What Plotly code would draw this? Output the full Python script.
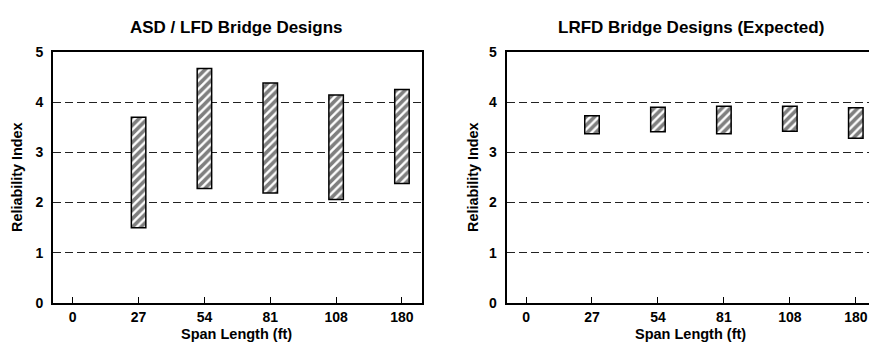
import plotly.graph_objects as go

# ---- data ----
spans = ["0", "27", "54", "81", "108", "180"]
bar_spans = ["27", "54", "81", "108", "180"]
asd_low = [1.50, 2.28, 2.19, 2.06, 2.38]
asd_high = [3.70, 4.67, 4.38, 4.14, 4.25]
lrfd_low = [3.37, 3.41, 3.37, 3.42, 3.28]
lrfd_high = [3.73, 3.90, 3.92, 3.92, 3.89]
titles = ["ASD / LFD Bridge Designs", "LRFD Bridge Designs (Expected)"]
x_title = "Span Length (ft)"
y_title = "Reliability Index"

W, H = 869, 354
FONT = "Liberation Sans, Arial, sans-serif"

def px(x):
    return x / W

def py(y):
    return 1 - y / H

pattern = dict(shape="/", fgcolor="black", bgcolor="white", size=6, solidity=0.6)

fig = go.Figure()
for lo, hi, xa, ya in [(asd_low, asd_high, "x", "y"), (lrfd_low, lrfd_high, "x2", "y2")]:
    fig.add_trace(go.Bar(
        x=bar_spans,
        y=[h - l for h, l in zip(hi, lo)],
        base=lo,
        width=0.22,
        marker=dict(color="white", line=dict(color="black", width=1.5), pattern=pattern),
        xaxis=xa, yaxis=ya, showlegend=False, hoverinfo="skip",
    ))

tickfont = dict(family=FONT, size=14, color="black", weight="bold")

common_x = dict(
    type="category", categoryorder="array", categoryarray=spans,
    showline=True, linecolor="black", linewidth=2, mirror=True,
    ticks="inside", ticklen=6, tickcolor="black", tickwidth=1,
    showgrid=False, zeroline=False, tickfont=tickfont, fixedrange=True,
)
common_y = dict(
    range=[0, 5], dtick=1, tick0=0,
    showline=True, linecolor="black", linewidth=2,
    showgrid=True, gridcolor="#222222", gridwidth=1, griddash="8px,4px",
    zeroline=False, ticks="", tickfont=tickfont, fixedrange=True,
    ticklabelstandoff=5,
)

ydom = [py(309), py(46)]
fig.update_layout(
    width=W, height=H,
    margin=dict(l=0, r=0, t=0, b=0),
    paper_bgcolor="white", plot_bgcolor="white",
    barmode="overlay",
    xaxis=dict(domain=[px(53), px(421.7)], range=[-0.3, 5.3], anchor="y", **common_x),
    yaxis=dict(domain=ydom, anchor="x", mirror=True, **common_y),
    xaxis2=dict(domain=[px(506.7), 1.0], range=[-0.293, 5.2], anchor="y2", **common_x),
    yaxis2=dict(domain=ydom, anchor="x2", mirror=False, **common_y),
)

ann = []
for t, cx in zip(titles, [237, 691]):
    ann.append(dict(text=t, x=px(cx), y=py(20), xref="paper", yref="paper",
                    showarrow=False, xanchor="center", yanchor="middle",
                    font=dict(family=FONT, size=17, color="black", weight="bold")))
for cx in [237, 690]:
    ann.append(dict(text=x_title, x=px(cx), y=py(341), xref="paper", yref="paper",
                    showarrow=False, xanchor="center", yanchor="middle",
                    font=dict(family=FONT, size=14.5, color="black", weight="bold")))
for cx in [17, 473]:
    ann.append(dict(text=y_title, x=px(cx), y=py(177), xref="paper", yref="paper",
                    showarrow=False, xanchor="center", yanchor="middle", textangle=-90,
                    font=dict(family=FONT, size=14.4, color="black", weight="bold")))
fig.update_layout(annotations=ann)

fig.write_html("out.html")
